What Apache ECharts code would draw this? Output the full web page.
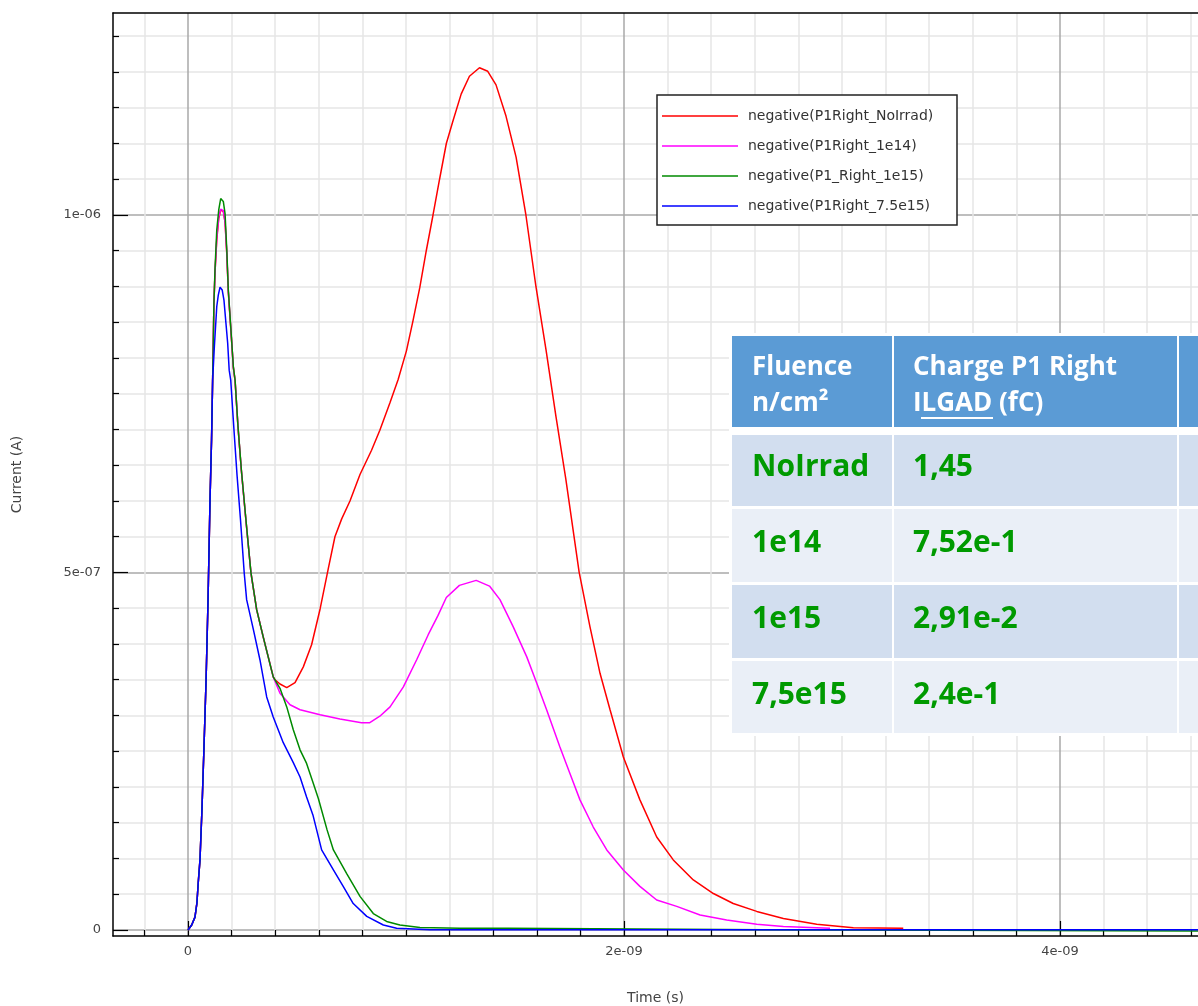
<!DOCTYPE html>
<html>
<head>
<meta charset="utf-8">
<title>Current vs Time</title>
<script src="https://cdn.jsdelivr.net/npm/echarts@6/dist/echarts.min.js"></script>
<style>
	html, body { margin: 0; padding: 0; background: #fff; }
	#container { width: 1198px; height: 1006px; }
</style>
</head>
<body>
<div id="container"></div>
<script>
// time in ns, current in uA
var seriesNames = ['negative(P1Right_NoIrrad)', 'negative(P1Right_1e14)', 'negative(P1_Right_1e15)', 'negative(P1Right_7.5e15)'];
var seriesColors = ['#ff0000', '#ff00ff', '#008a00', '#0000ff'];

// rising edge shared by all four traces
var riseT = [0, 0.017, 0.032, 0.041, 0.047, 0.055, 0.064, 0.073, 0.083, 0.092, 0.101, 0.108, 0.113];
var riseI = [0, 0.007, 0.018, 0.038, 0.066, 0.098, 0.168, 0.252, 0.350, 0.462, 0.601, 0.685, 0.769];

var noIrradT = [0.119, 0.124, 0.132, 0.141, 0.150, 0.162, 0.170, 0.178, 0.185, 0.196, 0.208, 0.216, 0.229, 0.245, 0.266, 0.289, 0.315, 0.345, 0.391, 0.399,
	0.422, 0.453, 0.491, 0.529, 0.567, 0.606, 0.644, 0.674, 0.705, 0.743, 0.789, 0.842, 0.880, 0.926, 0.964, 1.002, 1.032, 1.063, 1.093, 1.124,
	1.154, 1.185, 1.215, 1.253, 1.291, 1.337, 1.375, 1.413, 1.459, 1.505, 1.550, 1.596, 1.642, 1.688, 1.733, 1.794, 1.844, 1.890, 1.936, 1.997,
	2.073, 2.150, 2.226, 2.318, 2.410, 2.501, 2.609, 2.731, 2.884, 3.052, 3.281];
var noIrradI = [0.877, 0.920, 0.965, 0.995, 1.007, 1.005, 0.990, 0.945, 0.892, 0.842, 0.787, 0.768, 0.705, 0.642, 0.572, 0.499, 0.448, 0.410, 0.354, 0.350,
	0.344, 0.339, 0.346, 0.368, 0.399, 0.449, 0.506, 0.550, 0.575, 0.600, 0.637, 0.671, 0.699, 0.737, 0.770, 0.810, 0.852, 0.898, 0.950, 1.000,
	1.050, 1.100, 1.131, 1.169, 1.194, 1.206, 1.201, 1.182, 1.138, 1.081, 1.000, 0.900, 0.812, 0.718, 0.631, 0.501, 0.424, 0.359, 0.308, 0.242,
	0.182, 0.130, 0.098, 0.070, 0.051, 0.037, 0.026, 0.016, 0.008, 0.003, 0.0024];

var f1e14T = [0.119, 0.124, 0.132, 0.141, 0.150, 0.162, 0.170, 0.178, 0.185, 0.196, 0.208, 0.216, 0.229, 0.245, 0.266, 0.289, 0.315, 0.345, 0.391, 0.422,
	0.468, 0.514, 0.606, 0.697, 0.796, 0.834, 0.880, 0.927, 0.988, 1.049, 1.102, 1.147, 1.185, 1.245, 1.322, 1.383, 1.431, 1.492, 1.554, 1.600,
	1.645, 1.706, 1.752, 1.798, 1.859, 1.921, 1.997, 2.073, 2.150, 2.242, 2.349, 2.471, 2.609, 2.731, 2.945];
var f1e14I = [0.877, 0.920, 0.968, 0.997, 1.008, 1.006, 0.990, 0.948, 0.893, 0.843, 0.787, 0.768, 0.705, 0.642, 0.572, 0.499, 0.448, 0.410, 0.354, 0.331,
	0.315, 0.308, 0.301, 0.295, 0.290, 0.290, 0.299, 0.312, 0.340, 0.378, 0.413, 0.440, 0.465, 0.482, 0.489, 0.481, 0.462, 0.424, 0.382, 0.345,
	0.308, 0.256, 0.219, 0.182, 0.144, 0.112, 0.084, 0.061, 0.042, 0.033, 0.021, 0.014, 0.008, 0.005, 0.0024];

var f1e15T = [0.119, 0.124, 0.132, 0.141, 0.150, 0.162, 0.170, 0.178, 0.185, 0.196, 0.208, 0.216, 0.229, 0.245, 0.266, 0.289, 0.315, 0.345, 0.391, 0.422,
	0.453, 0.483, 0.514, 0.544, 0.575, 0.598, 0.638, 0.667, 0.728, 0.789, 0.850, 0.911, 0.972, 1.064, 1.248, 1.468, 1.470, 2.647, 2.650, 4.633];
var f1e15I = [0.877, 0.925, 0.979, 1.007, 1.023, 1.019, 1.002, 0.951, 0.895, 0.844, 0.788, 0.769, 0.706, 0.643, 0.573, 0.499, 0.448, 0.410, 0.354, 0.338,
	0.312, 0.280, 0.252, 0.233, 0.205, 0.184, 0.140, 0.112, 0.079, 0.047, 0.023, 0.012, 0.007, 0.0035, 0.0024, 0.0024, 0.0003, 0.0003, -0.0015, -0.0015];

var f75e15T = [0.121, 0.132, 0.139, 0.147, 0.157, 0.165, 0.174, 0.182, 0.189, 0.196, 0.211, 0.225, 0.241, 0.258, 0.269, 0.300, 0.330, 0.361, 0.391, 0.437,
	0.483, 0.514, 0.544, 0.573, 0.613, 0.667, 0.712, 0.758, 0.820, 0.896, 0.957, 1.110, 4.633];
var f75e15I = [0.816, 0.872, 0.888, 0.899, 0.895, 0.881, 0.849, 0.821, 0.783, 0.769, 0.699, 0.636, 0.573, 0.499, 0.462, 0.420, 0.378, 0.326, 0.298, 0.262,
	0.234, 0.214, 0.186, 0.161, 0.112, 0.084, 0.061, 0.037, 0.019, 0.007, 0.0024, 0.0004, 0.0004];

// axis ticks
var xTickValues = [0, 2, 4];
var xTickLabels = ['0', '2e-09', '4e-09'];
var xMinorTicks = [-0.2, 0.2, 0.4, 0.6, 0.8, 1.0, 1.2, 1.4, 1.6, 1.8, 2.2, 2.4, 2.6, 2.8, 3.0, 3.2, 3.4, 3.6, 3.8, 4.2, 4.4, 4.6];
var yTickValues = [0, 0.5, 1];
var yTickLabels = ['0', '5e-07', '1e-06'];
var yMinorTicks = [0.05, 0.1, 0.15, 0.2, 0.25, 0.3, 0.35, 0.4, 0.45, 0.55, 0.6, 0.65, 0.7, 0.75, 0.8, 0.85, 0.9, 0.95, 1.05, 1.1, 1.15, 1.2, 1.25];

// table overlay
var tableHead1 = ['Fluence', 'Charge P1 Right', ''];
var tableHead2 = ['n/cm²', 'ILGAD (fC)', ''];
var fluences = ['NoIrrad', '1e14', '1e15', '7,5e15'];
var charges = ['1,45', '7,52e-1', '2,91e-2', '2,4e-1'];

function pairs(t, v) {
	var arr = new Array();
	for (var i = 0; i < t.length; i++) {
		arr.push([t[i], v[i]]);
	}
	return arr;
}

function findLabel(values, labels, v) {
	for (var i = 0; i < values.length; i++) {
		if (Math.abs(values[i] - v) < 1e-9) return labels[i];
	}
	return '';
}

function buildTable() {
	var els = [];
	var colX = [732, 894, 1179];
	var colW = [160, 283, 40];
	var rowY = [435, 509, 585, 661];
	var rowH = [71, 73, 73, 72];
	var rowFill = ['#d2deef', '#eaeff7', '#d2deef', '#eaeff7'];
	var textMid = [467, 543, 619, 695];
	var headFont = { fontFamily: '"Open Sans"', fontWeight: 'bold', fontSize: 26 };
	var bodyFont = { fontFamily: '"Open Sans"', fontWeight: 'bold', fontSize: 30 };

	els.push({ type: 'rect', z: 10, shape: { x: 729, y: 333, width: 480, height: 403 }, style: { fill: '#ffffff' } });
	for (var c = 0; c < 3; c++) {
		els.push({ type: 'rect', z: 11, shape: { x: colX[c], y: 336, width: colW[c], height: 91 }, style: { fill: '#5b9bd5' } });
		for (var r = 0; r < 4; r++) {
			els.push({ type: 'rect', z: 11, shape: { x: colX[c], y: rowY[r], width: colW[c], height: rowH[r] }, style: { fill: rowFill[r] } });
		}
	}
	for (var c2 = 0; c2 < 2; c2++) {
		var tx = colX[c2] + (c2 == 0 ? 20 : 19);
		els.push({ type: 'text', z: 12, style: Object.assign({ text: tableHead1[c2], x: tx, y: 368, fill: '#ffffff', verticalAlign: 'middle' }, headFont) });
		els.push({ type: 'text', z: 12, style: Object.assign({ text: tableHead2[c2], x: tx, y: 404, fill: '#ffffff', verticalAlign: 'middle' }, headFont) });
	}
	// underline under "LGAD"
	els.push({ type: 'line', z: 12, shape: { x1: 921, y1: 418, x2: 993, y2: 418 }, style: { stroke: '#ffffff', lineWidth: 2 } });
	for (var r2 = 0; r2 < 4; r2++) {
		els.push({ type: 'text', z: 12, style: Object.assign({ text: fluences[r2], x: 752, y: textMid[r2], fill: '#009a00', verticalAlign: 'middle' }, bodyFont) });
		els.push({ type: 'text', z: 12, style: Object.assign({ text: charges[r2], x: 913, y: textMid[r2], fill: '#009a00', verticalAlign: 'middle' }, bodyFont) });
	}
	return els;
}

function initChart() {
	var dom = document.getElementById('container');
	var myChart = echarts.init(dom);

	var xMin = -0.344, xMax = 4.633;
	var yMin = -0.0084, yMax = 1.2825;
	var gridRect = { left: 113, top: 13, right: 0, bottom: 70, containLabel: false, outerBoundsMode: 'none' };
	var tickFont = { fontFamily: 'DejaVu Sans', fontSize: 13, color: '#444' };

	var traces = [
		riseT.concat(noIrradT), riseI.concat(noIrradI),
		riseT.concat(f1e14T), riseI.concat(f1e14I),
		riseT.concat(f1e15T), riseI.concat(f1e15I),
		riseT.concat(f75e15T), riseI.concat(f75e15I)
	];
	var series = [];
	for (var i = 0; i < 4; i++) {
		series.push({
			name: seriesNames[i],
			type: 'line',
			xAxisIndex: 1,
			yAxisIndex: 1,
			symbol: 'none',
			showSymbol: false,
			lineStyle: { width: 1.5, color: seriesColors[i] },
			itemStyle: { color: seriesColors[i] },
			data: pairs(traces[i * 2], traces[i * 2 + 1])
		});
	}

	var option = {
		animation: false,
		backgroundColor: '#ffffff',
		grid: [
			Object.assign({}, gridRect),
			Object.assign({}, gridRect)
		],
		legend: {
			orient: 'vertical',
			left: 662,
			top: 109,
			icon: 'rect',
			itemWidth: 76,
			itemHeight: 1.5,
			itemGap: 16,
			padding: 0,
			selectedMode: false,
			textStyle: { fontFamily: 'DejaVu Sans', fontSize: 14, color: '#333', padding: [0, 0, 0, 5] },
			data: seriesNames
		},
		xAxis: [
			{
				// minor grid
				gridIndex: 0, type: 'value', min: xMin, max: xMax,
				axisLine: { show: false, onZero: false },
				axisTick: { show: true, inside: true, length: 6, customValues: xMinorTicks, lineStyle: { color: '#000', width: 1.2 } },
				axisLabel: { show: false },
				splitLine: { show: true, lineStyle: { color: '#e6e6e6', width: 1.5 } }
			},
			{
				gridIndex: 1, type: 'value', min: xMin, max: xMax,
				name: 'Time (s)', nameLocation: 'middle', nameGap: 55,
				nameTextStyle: { fontFamily: 'DejaVu Sans', fontSize: 14, color: '#444' },
				axisLine: { show: true, onZero: false, lineStyle: { color: '#000', width: 1.5 } },
				axisTick: { show: true, inside: true, length: 15, customValues: xTickValues, lineStyle: { color: '#000', width: 1.2 } },
				axisLabel: Object.assign({
					customValues: xTickValues, margin: 9,
					formatter: function (v) { return findLabel(xTickValues, xTickLabels, v); }
				}, tickFont),
				splitLine: { show: true, lineStyle: { color: '#a8a8a8', width: 1.5 } }
			},
			{
				// top frame line
				gridIndex: 1, type: 'value', min: xMin, max: xMax, position: 'top',
				axisLine: { show: true, onZero: false, lineStyle: { color: '#000', width: 1.5 } },
				axisTick: { show: false },
				axisLabel: { show: false },
				splitLine: { show: false }
			}
		],
		yAxis: [
			{
				gridIndex: 0, type: 'value', min: yMin, max: yMax,
				axisLine: { show: false, onZero: false },
				axisTick: { show: true, inside: true, length: 6, customValues: yMinorTicks, lineStyle: { color: '#000', width: 1.2 } },
				axisLabel: { show: false },
				splitLine: { show: true, lineStyle: { color: '#e6e6e6', width: 1.5 } }
			},
			{
				gridIndex: 1, type: 'value', min: yMin, max: yMax,
				name: 'Current (A)', nameLocation: 'middle', nameGap: 89,
				nameTextStyle: { fontFamily: 'DejaVu Sans', fontSize: 14, color: '#444' },
				axisLine: { show: true, onZero: false, lineStyle: { color: '#000', width: 1.5 } },
				axisTick: { show: true, inside: true, length: 15, customValues: yTickValues, lineStyle: { color: '#000', width: 1.2 } },
				axisLabel: Object.assign({
					customValues: yTickValues, margin: 12,
					formatter: function (v) { return findLabel(yTickValues, yTickLabels, v); }
				}, tickFont),
				splitLine: { show: true, lineStyle: { color: '#a8a8a8', width: 1.5 } }
			}
		],
		graphic: {
			elements: [
				{ type: 'rect', z: 3, shape: { x: 657, y: 95, width: 300, height: 130 }, style: { fill: '#ffffff', stroke: '#222', lineWidth: 1.5 } }
			].concat(buildTable())
		},
		series: series
	};

	myChart.setOption(option);
}

initChart();
</script>
</body>
</html>
